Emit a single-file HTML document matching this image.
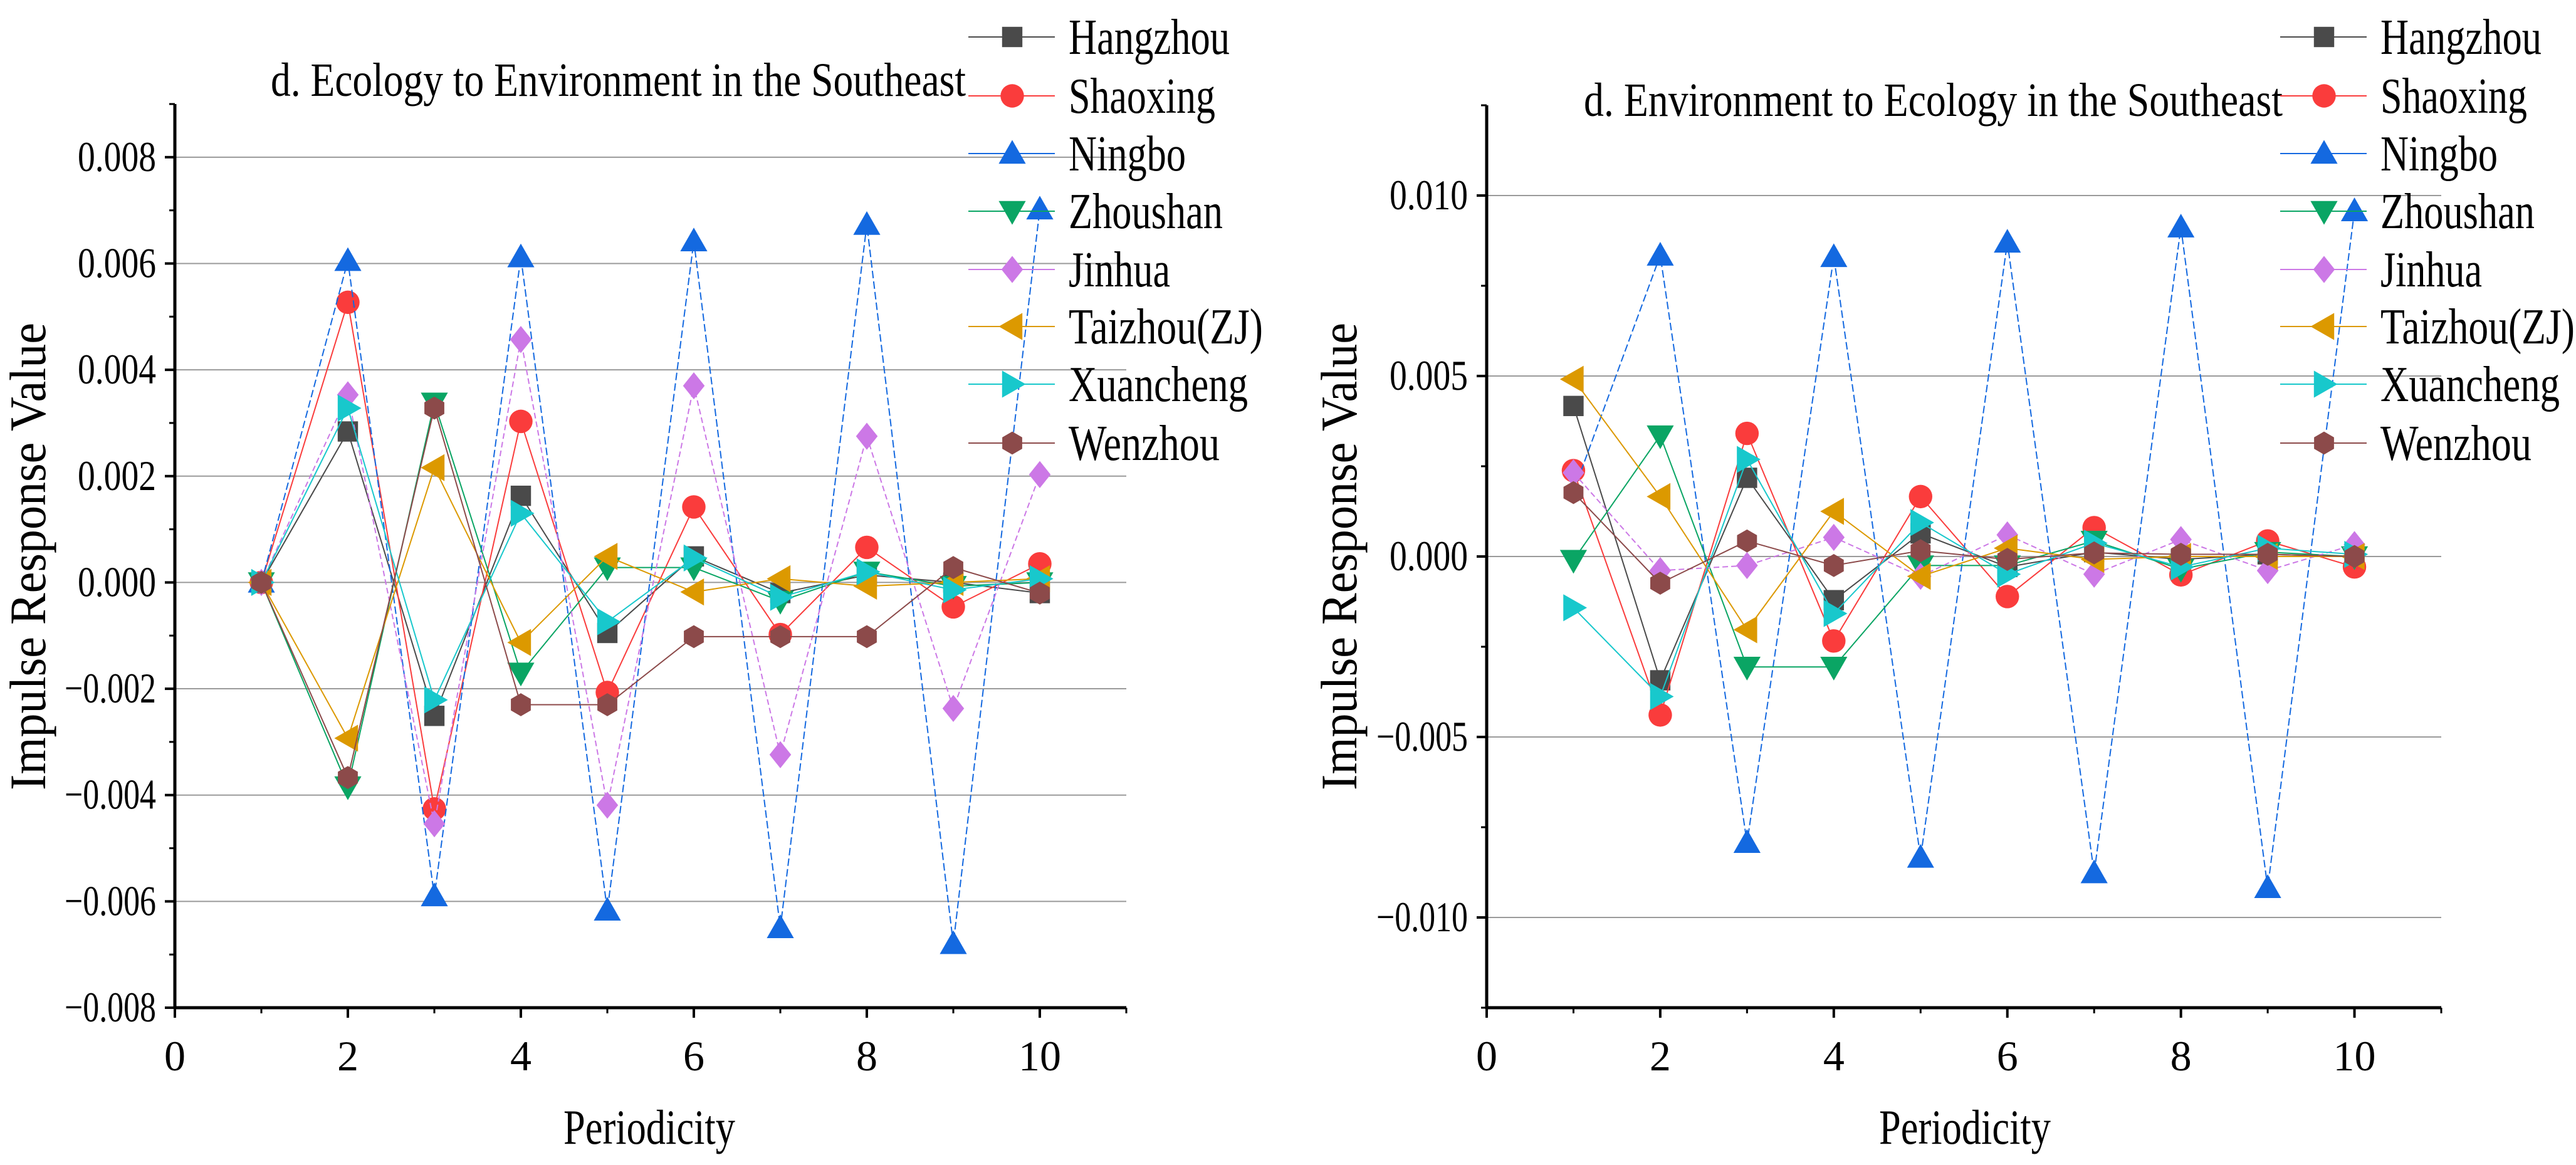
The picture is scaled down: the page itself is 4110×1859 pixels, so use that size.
<!DOCTYPE html>
<html><head><meta charset="utf-8"><style>
html,body{margin:0;padding:0;background:#fff;}
svg{display:block;}
svg text{font-family:"Liberation Serif","Times New Roman",serif;}
</style></head><body>
<svg id="svg" width="4110" height="1859" viewBox="0 0 4110 1859" xmlns="http://www.w3.org/2000/svg"></svg>
<script>
const periods = [1,2,3,4,5,6,7,8,9,10];
const seriesNames = ["Hangzhou","Shaoxing","Ningbo","Zhoushan","Jinhua","Taizhou(ZJ)","Xuancheng","Wenzhou"];
// Left chart: Ecology to Environment
const leftHangzhou  = [0,0.00284,-0.00251,0.00163,-0.00095,0.00049,-0.0002,0.00014,0,-0.0002];
const leftShaoxing  = [0,0.00527,-0.00426,0.00303,-0.00207,0.00142,-0.00098,0.00066,-0.00046,0.00035];
const leftNingbo    = [0,0.00605,-0.0059,0.00612,-0.00617,0.00642,-0.0065,0.00673,-0.0068,0.00702];
const leftZhoushan  = [0,-0.00384,0.00338,-0.0017,0.00028,0.00028,-0.00035,0.0002,-0.00007,0];
const leftJinhua    = [0,0.00353,-0.00454,0.00457,-0.00419,0.0037,-0.00324,0.00275,-0.00237,0.00203];
const leftTaizhou   = [0,-0.00293,0.00216,-0.00113,0.00049,-0.00018,0.00007,-0.00007,0,0.00007];
const leftXuancheng = [0,0.00328,-0.00221,0.0013,-0.00074,0.00046,-0.00028,0.0002,-0.00014,0.00007];
const leftWenzhou   = [0,-0.00367,0.00328,-0.0023,-0.0023,-0.00102,-0.00102,-0.00102,0.00028,-0.0002];
// Right chart: Environment to Ecology
const rightHangzhou  = [0.00417,-0.00343,0.00218,-0.00121,0.00064,-0.00029,0.00012,-0.00008,0.00006,0];
const rightShaoxing  = [0.00238,-0.00439,0.00341,-0.00234,0.00166,-0.00111,0.0008,-0.00051,0.00043,-0.00029];
const rightNingbo    = [0.0018,0.00834,-0.00793,0.0083,-0.00834,0.0087,-0.00877,0.00912,-0.00918,0.00957];
const rightZhoushan  = [-0.0001,0.00335,-0.00306,-0.00306,-0.00025,-0.00025,0.00043,-0.00035,0.00012,0];
const rightJinhua    = [0.00232,-0.00039,-0.00025,0.00053,-0.00055,0.0006,-0.00049,0.00047,-0.00039,0.00033];
const rightTaizhou   = [0.00491,0.00166,-0.00203,0.00125,-0.00055,0.00023,-0.00008,0,0,0];
const rightXuancheng = [-0.00142,-0.00388,0.00269,-0.00158,0.00094,-0.00049,0.00037,-0.00029,0.00023,0.00006];
const rightWenzhou   = [0.00177,-0.00074,0.00043,-0.00025,0.00016,-0.00008,0.0001,0.00006,0.00006,0];
const leftYTicks = [-0.008,-0.006,-0.004,-0.002,0,0.002,0.004,0.006,0.008];
const leftYLabels = ["\u22120.008","\u22120.006","\u22120.004","\u22120.002","0.000","0.002","0.004","0.006","0.008"];
const rightYTicks = [-0.010,-0.005,0,0.005,0.010];
const rightYLabels = ["\u22120.010","\u22120.005","0.000","0.005","0.010"];
const xTicks = [0,2,4,6,8,10];
const xLabels = ["0","2","4","6","8","10"];

const colors = ["#4a4a4a","#fa3c3c","#1469e0","#0aa564","#cc78e6","#dc9900","#18c8cc","#8c4a4a"];
const shapes = ["square","circle","up","down","diamond","left","right","hex"];
const dashes = [null,null,"12,5",null,"9,5",null,null,null];
const legWidths = [257,234,187,246,162,310,286,241];

const svg = document.getElementById('svg');
const NS = "http://www.w3.org/2000/svg";
const FONT = '"Liberation Serif", "Times New Roman", serif';
function mk(tag, attrs, parent){
  const e = document.createElementNS(NS, tag);
  for (const k in attrs) e.setAttribute(k, attrs[k]);
  if (tag==='text') e.setAttribute('font-family', FONT);
  (parent||svg).appendChild(e);
  return e;
}
function marker(g, shape, cx, cy, color, s){
  let e;
  if (shape==="square") e = mk('rect',{x:cx-s*0.45,y:cy-s*0.45,width:s*0.9,height:s*0.9,fill:color},g);
  else if (shape==="circle") e = mk('circle',{cx:cx,cy:cy,r:s*0.52,fill:color},g);
  else {
    let pts;
    const r = s*0.6;
    if (shape==="up") pts=[[0,-r],[r,r*0.75],[-r,r*0.75]];
    else if (shape==="down") pts=[[0,r],[r,-r*0.75],[-r,-r*0.75]];
    else if (shape==="left") pts=[[-r,0],[r*0.75,-r],[r*0.75,r]];
    else if (shape==="right") pts=[[r,0],[-r*0.75,-r],[-r*0.75,r]];
    else if (shape==="diamond") pts=[[0,-r],[r*0.8,0],[0,r],[-r*0.8,0]];
    else { pts=[]; for(let i=0;i<6;i++){const a=Math.PI/3*i+Math.PI/6; pts.push([Math.cos(a)*r*0.85,Math.sin(a)*r*0.85]);} }
    e = mk('polygon',{points:pts.map(p=>(cx+p[0])+','+(cy+p[1])).join(' '),fill:color},g);
  }
  return e;
}

function chart(cfg){
  const g = mk('g',{});
  
  
  const X = v => cfg.x0 + (v-cfg.xmin)/(cfg.xmax-cfg.xmin)*(cfg.x1-cfg.x0);
  const Y = v => cfg.yb - (v-cfg.ymin)/(cfg.ymax-cfg.ymin)*(cfg.yb-cfg.yt);
  cfg.yTicks.forEach((t,i)=>{
    if (Math.abs(Y(t)-cfg.yb)<2) return;
    const l = mk('line',{x1:cfg.x0,x2:cfg.x1,y1:Y(t),y2:Y(t),stroke:"#9a9a9a","stroke-width":2},g);
    
    
  });
  for (let v=cfg.ymin; v<=cfg.ymax+1e-9; v+=cfg.yMinor){
    mk('line',{x1:cfg.x0-9,x2:cfg.x0,y1:Y(v),y2:Y(v),stroke:"#000","stroke-width":3},g);
  }
  cfg.yTicks.forEach((t,i)=>{
    mk('line',{x1:cfg.x0-16,x2:cfg.x0,y1:Y(t),y2:Y(t),stroke:"#000","stroke-width":4},g);
    const tx = mk('text',{x:cfg.x0-30,y:Y(t)+22,"text-anchor":"end","font-size":68,textLength:cfg.yLabels[i].length>5?146:125,lengthAdjust:"spacingAndGlyphs"},g);
    tx.textContent = cfg.yLabels[i];
    
    
  });
  for (let v=1; v<=11; v+=2) mk('line',{x1:X(v),x2:X(v),y1:cfg.yb,y2:cfg.yb+9,stroke:"#000","stroke-width":3},g);
  xTicks.forEach((t,i)=>{
    mk('line',{x1:X(t),x2:X(t),y1:cfg.yb,y2:cfg.yb+16,stroke:"#000","stroke-width":4},g);
    const tx = mk('text',{x:X(t),y:cfg.yb+100,"text-anchor":"middle","font-size":68},g);
    tx.textContent = xLabels[i];
    
    
  });
  const ya = mk('line',{x1:cfg.x0,x2:cfg.x0,y1:cfg.yt,y2:cfg.yb+2,stroke:"#000","stroke-width":5},g);
   
  const xa = mk('line',{x1:cfg.x0-2,x2:cfg.x1,y1:cfg.yb,y2:cfg.yb,stroke:"#000","stroke-width":5},g);
   
  cfg.series.forEach((vals,si)=>{
    const sg = mk('g',{},g);
    
    
    const pl = mk('polyline',{points:vals.map((v,i)=>X(periods[i])+','+Y(v)).join(' '),fill:"none",stroke:colors[si],"stroke-width":2},sg);
    if (dashes[si]) pl.setAttribute('stroke-dasharray',dashes[si]);
    vals.forEach((v,i)=>{
      if (cfg.skip && cfg.skip(si,i)) return;
      const m = marker(sg, shapes[si], X(periods[i]), Y(v), colors[si], 36);
      
      
    });
  });
  const t = mk('text',{x:cfg.titleX,y:cfg.titleY,"font-size":76,textLength:cfg.titleW,lengthAdjust:"spacingAndGlyphs"},g);
  t.textContent = cfg.title;
   
  const xt = mk('text',{x:cfg.xTitleX,y:1825,"font-size":78,"text-anchor":"middle",textLength:274,lengthAdjust:"spacingAndGlyphs"},g);
  xt.textContent = "Periodicity";
   
  const yt = mk('text',{x:0,y:0,"font-size":82,"text-anchor":"middle",textLength:746,lengthAdjust:"spacingAndGlyphs",transform:`translate(${cfg.yTitleX},888) rotate(-90)`},g);
  yt.textContent = "Impulse Response Value";
   
  const lg = mk('g',{},g);
   
  const rows=[59,153,245,337,430,521,613,707];
  seriesNames.forEach((n,i)=>{
    const eg = mk('g',{},lg);
     
    mk('line',{x1:cfg.legX-70,x2:cfg.legX+68,y1:rows[i],y2:rows[i],stroke:colors[i],"stroke-width":2},eg);
    marker(eg, shapes[i], cfg.legX, rows[i], colors[i], 36);
    const tx = mk('text',{x:cfg.legX+90,y:rows[i]+27,"font-size":80,textLength:legWidths[i],lengthAdjust:"spacingAndGlyphs"},eg);
    tx.textContent = n;
  });
}

chart({name:"left-chart",x0:279,x1:1797,xmin:0,xmax:11,yt:166,yb:1608,ymin:-0.008,ymax:0.009,yMinor:0.001,
  yTicks:leftYTicks,yLabels:leftYLabels,
  series:[leftHangzhou,leftShaoxing,leftNingbo,leftZhoushan,leftJinhua,leftTaizhou,leftXuancheng,leftWenzhou],
  title:"d. Ecology to Environment in the Southeast",titleX:432,titleY:153,titleW:1109,xTitleX:1036,yTitleX:72,legX:1615});
chart({name:"right-chart",x0:2372,x1:3895,xmin:0,xmax:11,yt:168,yb:1608,ymin:-0.0125,ymax:0.0125,yMinor:0.0025,
  yTicks:rightYTicks,yLabels:rightYLabels,
  series:[rightHangzhou,rightShaoxing,rightNingbo,rightZhoushan,rightJinhua,rightTaizhou,rightXuancheng,rightWenzhou],
  skip:(si,i)=>si===2&&i===0,
  title:"d. Environment to Ecology in the Southeast",titleX:2527,titleY:185,titleW:1115,xTitleX:3135,yTitleX:2164,legX:3708});
</script>
</body></html>
